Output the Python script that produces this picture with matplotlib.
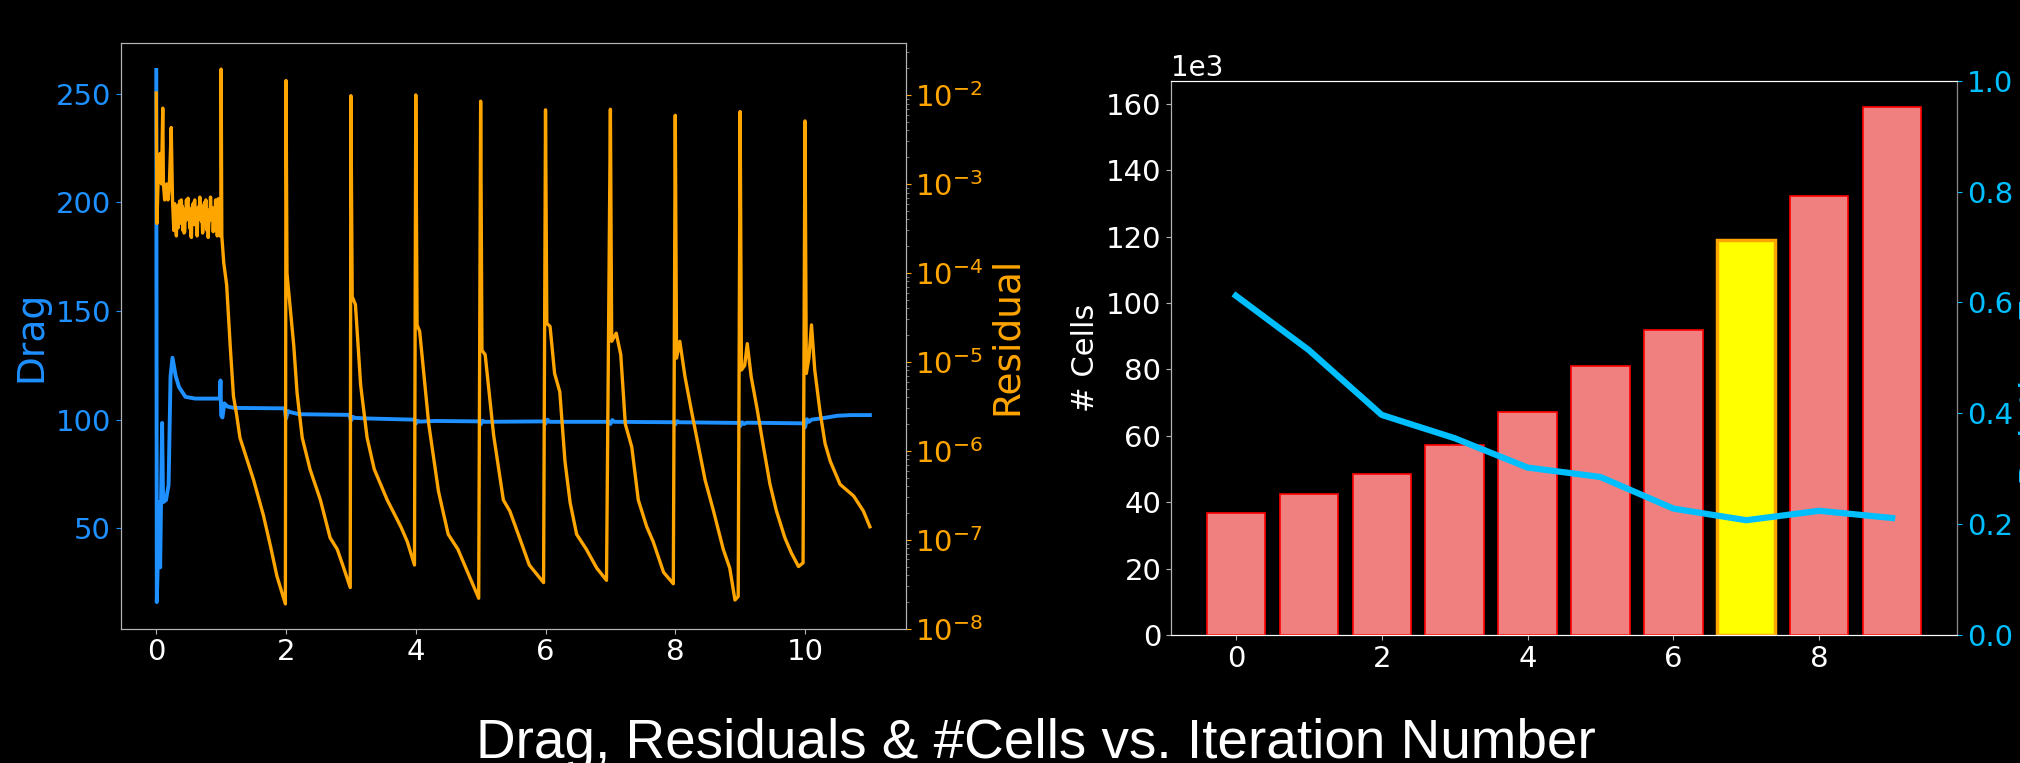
import matplotlib
matplotlib.use("Agg")
import matplotlib.pyplot as plt

plt.style.use('dark_background')

# ---- left panel: drag + residual history ----
drag_iter = [0.000, 0.002, 0.008, 0.020, 0.040, 0.060, 0.090, 0.105, 0.150, 0.190, 0.220, 0.250,
             0.300, 0.350, 0.450, 0.600, 0.980, 0.990, 1.000, 1.020, 1.050, 1.100, 1.200, 1.980,
             2.000, 2.030, 2.060, 2.200, 2.980, 3.000, 3.030, 3.060, 3.300, 3.980, 4.000, 4.030,
             4.060, 4.300, 4.980, 5.000, 5.030, 5.060, 5.980, 6.000, 6.030, 6.060, 6.980, 7.000,
             7.030, 7.060, 7.980, 8.000, 8.030, 8.060, 8.980, 9.000, 9.030, 9.060, 9.100, 9.980,
             10.000, 10.030, 10.060, 10.100, 10.300, 10.500, 10.700, 11.000]
drag_val = [261, 190, 16, 30, 62, 32, 98.5, 62, 63, 70, 120, 128.5,
            120, 115, 110.5, 109.7, 109.7, 118, 102, 101, 107.5, 106, 105.4, 105.2,
            100.5, 104, 103.5, 102.5, 102.2, 99.5, 101.3, 100.8, 100.5, 100, 98.2, 99.5,
            99.1, 99.4, 99.2, 97.8, 99.5, 99.0, 99.2, 98.2, 100, 99, 99, 98,
            99.8, 99, 98.8, 97.8, 99.3, 98.8, 98.5, 97, 98.8, 98, 98.6, 98.3,
            96.5, 100.2, 99, 100, 100.8, 101.8, 102.1, 102.1]

res_iter = [0.000, 0.010, 0.035, 0.060, 0.080, 0.100, 0.110, 0.130, 0.160, 0.180, 0.200, 0.230,
            0.250, 0.270,
            0.278, 0.284, 0.291, 0.298, 0.305, 0.310, 0.318, 0.326, 0.336, 0.343, 0.350, 0.360,
            0.368, 0.376, 0.387, 0.394, 0.402, 0.410, 0.418, 0.428, 0.439, 0.446, 0.455, 0.465,
            0.472, 0.481, 0.490, 0.497, 0.506, 0.515, 0.523, 0.532, 0.542, 0.550, 0.559, 0.568,
            0.576, 0.585, 0.594, 0.603, 0.612, 0.621, 0.630, 0.640, 0.650, 0.660, 0.671, 0.680,
            0.688, 0.697, 0.705, 0.714, 0.723, 0.733, 0.744, 0.754, 0.764, 0.773, 0.782, 0.791,
            0.800, 0.809, 0.818, 0.827, 0.836, 0.846, 0.857, 0.867, 0.878, 0.887, 0.896, 0.905,
            0.914, 0.920, 0.927, 0.933, 0.940, 0.947, 0.955, 0.963, 0.971, 0.976, 0.981, 0.986,
            0.990, 0.995,
            1.000, 1.010, 1.040, 1.085, 1.140, 1.190, 1.240, 1.290, 1.390, 1.500, 1.650, 1.760,
            1.860, 1.990,
            2.000, 2.015, 2.065, 2.120, 2.170, 2.250, 2.370, 2.530, 2.680, 2.790, 2.890, 2.990,
            3.000, 3.020, 3.070, 3.150, 3.250, 3.360, 3.560, 3.770, 3.870, 3.980,
            4.000, 4.020, 4.060, 4.200, 4.350, 4.500, 4.650, 4.800, 4.970,
            5.000, 5.020, 5.070, 5.200, 5.350, 5.450, 5.600, 5.750, 5.970,
            6.000, 6.020, 6.070, 6.140, 6.220, 6.300, 6.380, 6.480, 6.630, 6.790, 6.940,
            7.000, 7.020, 7.090, 7.160, 7.230, 7.330, 7.430, 7.560, 7.660, 7.820, 7.970,
            8.000, 8.020, 8.070, 8.150, 8.250, 8.360, 8.460, 8.590, 8.740, 8.840, 8.920, 8.970,
            9.000, 9.020, 9.070, 9.110, 9.170, 9.260, 9.360, 9.460, 9.560, 9.690, 9.790, 9.900,
            9.970,
            10.000, 10.020, 10.060, 10.100, 10.150, 10.230, 10.310, 10.390, 10.540, 10.750,
            10.900, 11.000]
res_val = [1.05e-2, 3.6e-4, 1.6e-3, 2.2e-3, 1.0e-3, 7.1e-3, 1.0e-3, 6.6e-4, 1.0e-3, 6.6e-4, 9.0e-4, 4.3e-3,
           6.6e-4, 3.0e-4,
           4.5e-4, 6.0e-4, 3.5e-4, 5.5e-4, 3.0e-4, 2.6e-4, 4.8e-4, 3.4e-4, 3.2e-4, 5.8e-4, 4.2e-4, 6.4e-4,
           3.6e-4, 6.0e-4, 6.6e-4, 3.8e-4, 5.6e-4, 3.0e-4, 4.6e-4, 2.8e-4, 2.9e-4, 5.2e-4, 3.9e-4, 6.6e-4,
           4.4e-4, 6.5e-4, 6.9e-4, 4.0e-4, 5.4e-4, 3.2e-4, 4.4e-4, 2.6e-4, 2.5e-4, 4.6e-4, 3.5e-4, 6.0e-4,
           4.0e-4, 6.3e-4, 6.6e-4, 4.1e-4, 3.4e-4, 4.9e-4, 2.6e-4, 4.2e-4, 5.5e-4, 4.0e-4, 7.1e-4, 4.6e-4,
           5.8e-4, 3.8e-4, 4.5e-4, 2.8e-4, 3.2e-4, 5.0e-4, 6.2e-4, 4.2e-4, 6.6e-4, 3.9e-4, 3.0e-4, 4.6e-4,
           2.5e-4, 3.7e-4, 5.1e-4, 3.9e-4, 7.1e-4, 4.5e-4, 4.0e-4, 5.4e-4, 2.9e-4, 4.3e-4, 5.2e-4, 3.6e-4,
           6.6e-4, 4.2e-4, 3.0e-4, 4.8e-4, 2.6e-4, 5.0e-4, 6.8e-4, 3.8e-4, 6.5e-4, 3.4e-4, 2.6e-4, 4.8e-4,
           5.5e-4, 2.7e-4,
           1.95e-2, 2.6e-4, 1.3e-4, 7.3e-5, 1.5e-5, 4.1e-6, 2.5e-6, 1.4e-6, 8.3e-7, 4.7e-7, 1.9e-7, 8.5e-8,
           3.9e-8, 1.9e-8,
           1.45e-2, 9.8e-5, 4.0e-5, 1.5e-5, 4.5e-6, 1.4e-6, 6.2e-7, 2.8e-7, 1.05e-7, 7.8e-8, 4.8e-8, 2.9e-8,
           9.8e-3, 5.4e-5, 4.4e-5, 5.5e-6, 1.4e-6, 6.2e-7, 2.8e-7, 1.4e-7, 9.5e-8, 5.2e-8,
           1.0e-2, 2.6e-5, 2.2e-5, 2.0e-6, 3.5e-7, 1.15e-7, 7.8e-8, 4.3e-8, 2.2e-8,
           8.5e-3, 1.35e-5, 1.2e-5, 1.5e-6, 2.8e-7, 2.1e-7, 1.05e-7, 5.2e-8, 3.3e-8,
           6.8e-3, 2.7e-5, 2.5e-5, 7.4e-6, 4.6e-6, 7.6e-7, 2.6e-7, 1.15e-7, 7.8e-8, 4.8e-8, 3.5e-8,
           6.9e-3, 1.7e-5, 2.1e-5, 1.2e-5, 2.0e-6, 1.1e-6, 2.8e-7, 1.4e-7, 9.5e-8, 4.3e-8, 3.2e-8,
           5.9e-3, 1.1e-5, 1.7e-5, 6.8e-6, 2.8e-6, 1.1e-6, 4.7e-7, 2.1e-7, 7.8e-8, 4.8e-8, 2.1e-8, 2.3e-8,
           6.5e-3, 8.1e-6, 9.1e-6, 1.6e-5, 6.8e-6, 3.0e-6, 1.1e-6, 4.2e-7, 2.1e-7, 1.05e-7, 7.1e-8, 5.0e-8,
           5.5e-8,
           5.1e-3, 7.4e-6, 1.1e-5, 2.6e-5, 8.1e-6, 2.8e-6, 1.2e-6, 7.6e-7, 4.2e-7, 3.1e-7,
           2.1e-7, 1.4e-7]

# ---- right panel: mesh cells + error per refinement ----
refine_iter = [0, 1, 2, 3, 4, 5, 6, 7, 8, 9]
n_cells = [36700, 42500, 48600, 57100, 67100, 80900, 92000, 118900, 132300, 159000]
error = [0.612, 0.514, 0.397, 0.355, 0.302, 0.285, 0.228, 0.207, 0.224, 0.211]
chosen = 7

spine_col = '#b4b4b4'
tsize = 21

fig = plt.figure(figsize=(20.2, 7.63), dpi=100)
fig.patch.set_facecolor('black')

ax1 = fig.add_axes([0.0597, 0.176, 0.3886, 0.7672])
ax1.plot(drag_iter, drag_val, color='#1e90ff', lw=2.8)
ax1.set_ylabel('Drag', color='#1e90ff', fontsize=27)
ax1.tick_params(axis='y', colors='#1e90ff', labelsize=tsize)
ax1.tick_params(axis='x', colors=spine_col, labelcolor='white', labelsize=tsize)
ax1.set_yticks([50, 100, 150, 200, 250])

ax1b = ax1.twinx()
ax1b.plot(res_iter, res_val, color='orange', lw=2.4)
ax1b.set_yscale('log')
ax1b.set_ylim(1e-8, 3.8e-2)
ax1b.set_ylabel('Residual', color='orange', fontsize=27)
ax1b.tick_params(axis='y', which='major', colors='orange', labelsize=tsize)
ax1b.tick_params(axis='y', which='minor', colors='#888888')
ax1.set_xlim(-0.55, 11.55)

for a in (ax1, ax1b):
    for s in a.spines.values():
        s.set_color(spine_col)

ax2 = fig.add_axes([0.5797, 0.1678, 0.3891, 0.7265])
colors = ['yellow' if i == chosen else 'lightcoral' for i in refine_iter]
edges = ['orange' if i == chosen else 'red' for i in refine_iter]
lws = [2.5 if i == chosen else 1.2 for i in refine_iter]
ax2.bar(refine_iter, n_cells, width=0.8, color=colors, edgecolor=edges, linewidth=lws)
ax2.ticklabel_format(axis='y', style='sci', scilimits=(3, 3))
ax2.yaxis.get_offset_text().set_fontsize(20)
ax2.set_ylabel('# Cells', color='white', fontsize=22)
ax2.tick_params(axis='both', colors=spine_col, labelcolor='white', labelsize=tsize)

ax2b = ax2.twinx()
ax2b.plot(refine_iter, error, color='deepskyblue', lw=4.5)
ax2b.set_ylim(0, 1)
ax2b.set_ylabel('Relative Error', color='deepskyblue', fontsize=27)
ax2b.tick_params(axis='y', colors='deepskyblue', labelsize=tsize)
ax2b.spines['right'].set_color('#888888')
for a in (ax2, ax2b):
    a.spines['top'].set_color('white')
    a.spines['left'].set_color(spine_col)
    a.spines['bottom'].set_color('white')

fig.text(0.513, 0.007, 'Drag, Residuals & #Cells vs. Iteration Number',
         ha='center', va='baseline', fontsize=39.5, family='Liberation Sans', color='white')

fig.savefig('out.png', dpi=100, facecolor='black')
